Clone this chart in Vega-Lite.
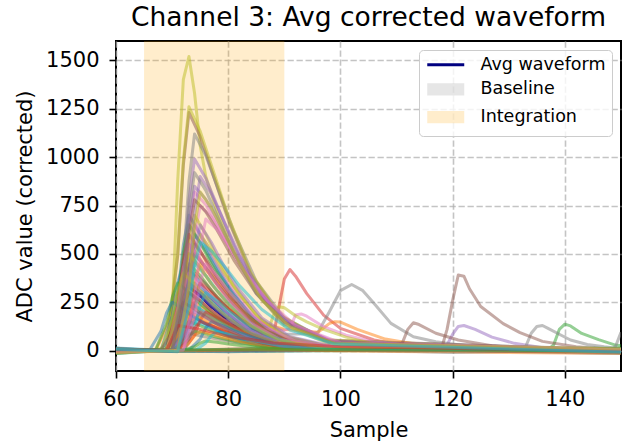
{
  "$schema": "https://vega.github.io/schema/vega-lite/v6.json",
  "width": 505,
  "height": 330,
  "autosize": {"type": "none"},
  "padding": {"left": 116, "top": 41, "right": 1, "bottom": 75},
  "background": "white",
  "title": {
    "text": "Channel 3: Avg corrected waveform",
    "font": "DejaVu Sans",
    "fontSize": 26.5,
    "fontWeight": "normal",
    "color": "black",
    "anchor": "middle",
    "baseline": "alphabetic",
    "offset": -11
  },
  "config": {
    "font": "DejaVu Sans",
    "view": {"stroke": "black", "strokeWidth": 2},
    "axis": {
      "domain": false,
      "grid": true,
      "gridColor": "#b0b0b0",
      "gridOpacity": 0.75,
      "gridDash": [6.3, 2.7],
      "gridWidth": 1.6,
      "ticks": true,
      "tickColor": "black",
      "tickSize": 7,
      "tickWidth": 1.6,
      "labelFont": "DejaVu Sans",
      "labelFontSize": 21,
      "labelColor": "black",
      "labelPadding": 10,
      "format": "d",
      "titleFont": "DejaVu Sans",
      "titleFontSize": 21,
      "titleFontWeight": "normal",
      "titleColor": "black"
    },
    "axisX": {"titleX": 252.5, "titleY": 65.7, "titleBaseline": "alphabetic", "labelFlush": false},
    "axisY": {"titleX": -84.3, "titleY": 165, "titleAngle": -90, "titleBaseline": "alphabetic", "titleAlign": "center"}
  },
  "datasets": {
    "regions": [
      {"region": "Baseline", "x0": 0, "x1": 50},
      {"region": "Integration", "x0": 65, "x1": 90}
    ],
    "avg": [
      {"x": 60, "y": 0}, {"x": 69, "y": 0}, {"x": 71, "y": 132}, {"x": 72, "y": 257}, {"x": 73, "y": 330}, {"x": 75, "y": 284}, {"x": 77, "y": 228}, {"x": 80, "y": 158}, {"x": 84, "y": 86}, {"x": 89, "y": 36}, {"x": 97, "y": 10}, {"x": 150, "y": 0}
    ],
    "waves": [
      {"w":0,"x":60,"y":12},{"w":0,"x":69,"y":-3},{"w":0,"x":71,"y":280},{"w":0,"x":72,"y":546},{"w":0,"x":73,"y":700},{"w":0,"x":75,"y":602},{"w":0,"x":77,"y":483},{"w":0,"x":80,"y":336},{"w":0,"x":84,"y":182},{"w":0,"x":89,"y":77},{"w":0,"x":97,"y":21},{"w":0,"x":150,"y":-6},
      {"w":1,"x":60,"y":-5},{"w":1,"x":69,"y":2},{"w":1,"x":71,"y":220},{"w":1,"x":72,"y":429},{"w":1,"x":73,"y":550},{"w":1,"x":75,"y":473},{"w":1,"x":77,"y":380},{"w":1,"x":80,"y":264},{"w":1,"x":84,"y":143},{"w":1,"x":89,"y":61},{"w":1,"x":97,"y":17},{"w":1,"x":150,"y":5},
      {"w":2,"x":60,"y":7},{"w":2,"x":69,"y":0},{"w":2,"x":71,"y":180},{"w":2,"x":72,"y":351},{"w":2,"x":73,"y":450},{"w":2,"x":75,"y":387},{"w":2,"x":77,"y":311},{"w":2,"x":80,"y":216},{"w":2,"x":84,"y":117},{"w":2,"x":89,"y":50},{"w":2,"x":97,"y":14},{"w":2,"x":150,"y":-3},
      {"w":3,"x":60,"y":-4},{"w":3,"x":70,"y":2},{"w":3,"x":72,"y":90},{"w":3,"x":74,"y":170},{"w":3,"x":77,"y":130},{"w":3,"x":81,"y":80},{"w":3,"x":87,"y":45},{"w":3,"x":88,"y":70},{"w":3,"x":89,"y":220},{"w":3,"x":90,"y":370},{"w":3,"x":91,"y":419},{"w":3,"x":92,"y":385},{"w":3,"x":94,"y":295},{"w":3,"x":97,"y":184},{"w":3,"x":100,"y":115},{"w":3,"x":106,"y":55},{"w":3,"x":111,"y":29},{"w":3,"x":120,"y":10},{"w":3,"x":150,"y":-4},
      {"w":4,"x":60,"y":3},{"w":4,"x":118,"y":5},{"w":4,"x":119,"y":30},{"w":4,"x":120,"y":85},{"w":4,"x":121,"y":125},{"w":4,"x":122,"y":130},{"w":4,"x":124,"y":110},{"w":4,"x":127,"y":70},{"w":4,"x":131,"y":38},{"w":4,"x":136,"y":15},{"w":4,"x":150,"y":0},
      {"w":5,"x":60,"y":-2},{"w":5,"x":70,"y":5},{"w":5,"x":72,"y":160},{"w":5,"x":73,"y":312},{"w":5,"x":74,"y":400},{"w":5,"x":76,"y":344},{"w":5,"x":78,"y":276},{"w":5,"x":81,"y":192},{"w":5,"x":85,"y":104},{"w":5,"x":90,"y":44},{"w":5,"x":98,"y":12},{"w":5,"x":150,"y":3},
      {"w":6,"x":60,"y":6},{"w":6,"x":71,"y":-1},{"w":6,"x":73,"y":300},{"w":6,"x":74,"y":585},{"w":6,"x":75,"y":750},{"w":6,"x":77,"y":690},{"w":6,"x":79,"y":600},{"w":6,"x":82,"y":450},{"w":6,"x":86,"y":285},{"w":6,"x":91,"y":143},{"w":6,"x":99,"y":45},{"w":6,"x":150,"y":-5},
      {"w":7,"x":60,"y":1},{"w":7,"x":69,"y":-2},{"w":7,"x":71,"y":110},{"w":7,"x":73,"y":250},{"w":7,"x":75,"y":215},{"w":7,"x":78,"y":165},{"w":7,"x":83,"y":110},{"w":7,"x":90,"y":85},{"w":7,"x":95,"y":88},{"w":7,"x":96,"y":95},{"w":7,"x":98,"y":200},{"w":7,"x":100,"y":310},{"w":7,"x":102,"y":342},{"w":7,"x":104,"y":310},{"w":7,"x":106,"y":244},{"w":7,"x":109,"y":141},{"w":7,"x":113,"y":72},{"w":7,"x":117,"y":46},{"w":7,"x":125,"y":15},{"w":7,"x":150,"y":2},
      {"w":8,"x":60,"y":-6},{"w":8,"x":67,"y":2},{"w":8,"x":69,"y":20},{"w":8,"x":70,"y":180},{"w":8,"x":71,"y":880},{"w":8,"x":72,"y":1400},{"w":8,"x":73,"y":1520},{"w":8,"x":74,"y":1330},{"w":8,"x":75,"y":1060},{"w":8,"x":76,"y":900},{"w":8,"x":78,"y":720},{"w":8,"x":81,"y":520},{"w":8,"x":85,"y":300},{"w":8,"x":90,"y":130},{"w":8,"x":98,"y":35},{"w":8,"x":150,"y":4},
      {"w":9,"x":60,"y":14},{"w":9,"x":69,"y":1},{"w":9,"x":71,"y":140},{"w":9,"x":72,"y":273},{"w":9,"x":73,"y":350},{"w":9,"x":75,"y":301},{"w":9,"x":77,"y":242},{"w":9,"x":80,"y":168},{"w":9,"x":84,"y":91},{"w":9,"x":89,"y":39},{"w":9,"x":97,"y":11},{"w":9,"x":150,"y":-7},
      {"w":10,"x":60,"y":-13},{"w":10,"x":70,"y":3},{"w":10,"x":72,"y":240},{"w":10,"x":73,"y":468},{"w":10,"x":74,"y":600},{"w":10,"x":76,"y":516},{"w":10,"x":78,"y":414},{"w":10,"x":81,"y":288},{"w":10,"x":85,"y":156},{"w":10,"x":90,"y":66},{"w":10,"x":98,"y":18},{"w":10,"x":150,"y":6},
      {"w":11,"x":60,"y":2},{"w":11,"x":67,"y":-4},{"w":11,"x":69,"y":120},{"w":11,"x":70,"y":234},{"w":11,"x":71,"y":300},{"w":11,"x":73,"y":258},{"w":11,"x":75,"y":207},{"w":11,"x":78,"y":144},{"w":11,"x":82,"y":78},{"w":11,"x":87,"y":33},{"w":11,"x":95,"y":9},{"w":11,"x":150,"y":-1},
      {"w":12,"x":60,"y":-3},{"w":12,"x":136,"y":2},{"w":12,"x":137,"y":5},{"w":12,"x":138,"y":30},{"w":12,"x":139,"y":110},{"w":12,"x":140,"y":137},{"w":12,"x":141,"y":128},{"w":12,"x":143,"y":89},{"w":12,"x":146,"y":57},{"w":12,"x":149,"y":29},{"w":12,"x":150,"y":25},
      {"w":13,"x":60,"y":5},{"w":13,"x":70,"y":-2},{"w":13,"x":72,"y":200},{"w":13,"x":73,"y":390},{"w":13,"x":74,"y":500},{"w":13,"x":76,"y":430},{"w":13,"x":78,"y":345},{"w":13,"x":81,"y":240},{"w":13,"x":85,"y":130},{"w":13,"x":90,"y":55},{"w":13,"x":98,"y":15},{"w":13,"x":150,"y":8},
      {"w":14,"x":60,"y":-1},{"w":14,"x":70,"y":4},{"w":14,"x":72,"y":400},{"w":14,"x":73,"y":780},{"w":14,"x":74,"y":990},{"w":14,"x":76,"y":891},{"w":14,"x":78,"y":752},{"w":14,"x":81,"y":545},{"w":14,"x":85,"y":317},{"w":14,"x":90,"y":149},{"w":14,"x":98,"y":45},{"w":14,"x":150,"y":-3},
      {"w":15,"x":60,"y":3},{"w":15,"x":69,"y":-1},{"w":15,"x":71,"y":492},{"w":15,"x":72,"y":959},{"w":15,"x":73,"y":1230},{"w":15,"x":75,"y":1107},{"w":15,"x":77,"y":935},{"w":15,"x":80,"y":677},{"w":15,"x":84,"y":394},{"w":15,"x":89,"y":185},{"w":15,"x":97,"y":55},{"w":15,"x":150,"y":2},
      {"w":16,"x":60,"y":-7},{"w":16,"x":70,"y":2},{"w":16,"x":72,"y":328},{"w":16,"x":73,"y":640},{"w":16,"x":74,"y":820},{"w":16,"x":76,"y":754},{"w":16,"x":78,"y":656},{"w":16,"x":81,"y":492},{"w":16,"x":85,"y":312},{"w":16,"x":90,"y":156},{"w":16,"x":98,"y":49},{"w":16,"x":150,"y":-4},
      {"w":17,"x":60,"y":4},{"w":17,"x":70,"y":-3},{"w":17,"x":72,"y":448},{"w":17,"x":73,"y":874},{"w":17,"x":74,"y":1120},{"w":17,"x":76,"y":1008},{"w":17,"x":78,"y":851},{"w":17,"x":81,"y":616},{"w":17,"x":85,"y":358},{"w":17,"x":90,"y":168},{"w":17,"x":98,"y":50},{"w":17,"x":150,"y":6},
      {"w":18,"x":60,"y":-2},{"w":18,"x":69,"y":3},{"w":18,"x":71,"y":504},{"w":18,"x":72,"y":983},{"w":18,"x":73,"y":1260},{"w":18,"x":75,"y":1134},{"w":18,"x":77,"y":958},{"w":18,"x":80,"y":693},{"w":18,"x":84,"y":403},{"w":18,"x":89,"y":189},{"w":18,"x":97,"y":57},{"w":18,"x":150,"y":-5},
      {"w":19,"x":60,"y":6},{"w":19,"x":69,"y":-2},{"w":19,"x":71,"y":100},{"w":19,"x":72,"y":195},{"w":19,"x":73,"y":250},{"w":19,"x":75,"y":215},{"w":19,"x":77,"y":173},{"w":19,"x":80,"y":120},{"w":19,"x":84,"y":65},{"w":19,"x":89,"y":28},{"w":19,"x":97,"y":8},{"w":19,"x":150,"y":3},
      {"w":20,"x":60,"y":-4},{"w":20,"x":68,"y":1},{"w":20,"x":70,"y":180},{"w":20,"x":71,"y":351},{"w":20,"x":72,"y":450},{"w":20,"x":74,"y":387},{"w":20,"x":76,"y":311},{"w":20,"x":79,"y":216},{"w":20,"x":83,"y":117},{"w":20,"x":88,"y":50},{"w":20,"x":96,"y":14},{"w":20,"x":150,"y":-8},
      {"w":21,"x":60,"y":1},{"w":21,"x":70,"y":-2},{"w":21,"x":72,"y":130},{"w":21,"x":74,"y":330},{"w":21,"x":76,"y":290},{"w":21,"x":79,"y":230},{"w":21,"x":84,"y":160},{"w":21,"x":90,"y":110},{"w":21,"x":96,"y":95},{"w":21,"x":98,"y":140},{"w":21,"x":99,"y":150},{"w":21,"x":100,"y":148},{"w":21,"x":103,"y":110},{"w":21,"x":108,"y":60},{"w":21,"x":115,"y":25},{"w":21,"x":150,"y":3},
      {"w":22,"x":60,"y":-14},{"w":22,"x":69,"y":2},{"w":22,"x":71,"y":260},{"w":22,"x":72,"y":507},{"w":22,"x":73,"y":650},{"w":22,"x":75,"y":559},{"w":22,"x":77,"y":449},{"w":22,"x":80,"y":312},{"w":22,"x":84,"y":169},{"w":22,"x":89,"y":72},{"w":22,"x":97,"y":20},{"w":22,"x":150,"y":4},
      {"w":23,"x":60,"y":3},{"w":23,"x":69,"y":-1},{"w":23,"x":71,"y":120},{"w":23,"x":72,"y":234},{"w":23,"x":73,"y":300},{"w":23,"x":75,"y":258},{"w":23,"x":77,"y":207},{"w":23,"x":80,"y":144},{"w":23,"x":84,"y":78},{"w":23,"x":89,"y":33},{"w":23,"x":97,"y":9},{"w":23,"x":150,"y":-2},
      {"w":24,"x":60,"y":2},{"w":24,"x":70,"y":-3},{"w":24,"x":72,"y":340},{"w":24,"x":73,"y":663},{"w":24,"x":74,"y":850},{"w":24,"x":76,"y":782},{"w":24,"x":78,"y":680},{"w":24,"x":81,"y":510},{"w":24,"x":85,"y":323},{"w":24,"x":90,"y":162},{"w":24,"x":98,"y":51},{"w":24,"x":150,"y":1},
      {"w":25,"x":60,"y":-1},{"w":25,"x":75,"y":3},{"w":25,"x":90,"y":18},{"w":25,"x":100,"y":22},{"w":25,"x":108,"y":22},{"w":25,"x":111,"y":38},{"w":25,"x":112,"y":110},{"w":25,"x":113,"y":144},{"w":25,"x":114,"y":135},{"w":25,"x":117,"y":90},{"w":25,"x":121,"y":55},{"w":25,"x":127,"y":25},{"w":25,"x":135,"y":8},{"w":25,"x":150,"y":-2},
      {"w":26,"x":60,"y":5},{"w":26,"x":71,"y":0},{"w":26,"x":73,"y":110},{"w":26,"x":75,"y":200},{"w":26,"x":79,"y":160},{"w":26,"x":85,"y":115},{"w":26,"x":90,"y":105},{"w":26,"x":91,"y":115},{"w":26,"x":92,"y":185},{"w":26,"x":93,"y":190},{"w":26,"x":94,"y":178},{"w":26,"x":97,"y":124},{"w":26,"x":101,"y":80},{"w":26,"x":106,"y":45},{"w":26,"x":115,"y":15},{"w":26,"x":150,"y":-3},
      {"w":27,"x":60,"y":-2},{"w":27,"x":131,"y":4},{"w":27,"x":133,"y":20},{"w":27,"x":134,"y":90},{"w":27,"x":135,"y":125},{"w":27,"x":136,"y":130},{"w":27,"x":137,"y":115},{"w":27,"x":139,"y":85},{"w":27,"x":141,"y":55},{"w":27,"x":144,"y":32},{"w":27,"x":147,"y":20},{"w":27,"x":150,"y":10},
      {"w":28,"x":60,"y":0},{"w":28,"x":71,"y":3},{"w":28,"x":73,"y":150},{"w":28,"x":76,"y":190},{"w":28,"x":80,"y":120},{"w":28,"x":85,"y":70},{"w":28,"x":87,"y":90},{"w":28,"x":88,"y":180},{"w":28,"x":89,"y":227},{"w":28,"x":90,"y":222},{"w":28,"x":92,"y":180},{"w":28,"x":94,"y":149},{"w":28,"x":97,"y":110},{"w":28,"x":101,"y":70},{"w":28,"x":106,"y":35},{"w":28,"x":115,"y":10},{"w":28,"x":150,"y":2},
      {"w":29,"x":60,"y":-6},{"w":29,"x":68,"y":3},{"w":29,"x":70,"y":80},{"w":29,"x":71,"y":156},{"w":29,"x":72,"y":200},{"w":29,"x":74,"y":172},{"w":29,"x":76,"y":138},{"w":29,"x":79,"y":96},{"w":29,"x":83,"y":52},{"w":29,"x":88,"y":22},{"w":29,"x":96,"y":6},{"w":29,"x":150,"y":-1},
      {"w":30,"x":60,"y":2},{"w":30,"x":70,"y":-1},{"w":30,"x":72,"y":140},{"w":30,"x":73,"y":273},{"w":30,"x":74,"y":350},{"w":30,"x":76,"y":301},{"w":30,"x":78,"y":242},{"w":30,"x":81,"y":168},{"w":30,"x":85,"y":91},{"w":30,"x":90,"y":39},{"w":30,"x":98,"y":11},{"w":30,"x":150,"y":-14},
      {"w":31,"x":60,"y":-3},{"w":31,"x":70,"y":4},{"w":31,"x":72,"y":100},{"w":31,"x":73,"y":195},{"w":31,"x":74,"y":250},{"w":31,"x":76,"y":215},{"w":31,"x":78,"y":173},{"w":31,"x":81,"y":120},{"w":31,"x":85,"y":65},{"w":31,"x":90,"y":28},{"w":31,"x":98,"y":8},{"w":31,"x":150,"y":5},
      {"w":32,"x":60,"y":8},{"w":32,"x":69,"y":2},{"w":32,"x":71,"y":60},{"w":32,"x":72,"y":117},{"w":32,"x":73,"y":150},{"w":32,"x":75,"y":129},{"w":32,"x":77,"y":104},{"w":32,"x":80,"y":72},{"w":32,"x":84,"y":39},{"w":32,"x":89,"y":17},{"w":32,"x":97,"y":5},{"w":32,"x":150,"y":6},
      {"w":33,"x":60,"y":-5},{"w":33,"x":69,"y":0},{"w":33,"x":71,"y":240},{"w":33,"x":72,"y":468},{"w":33,"x":73,"y":600},{"w":33,"x":75,"y":516},{"w":33,"x":77,"y":414},{"w":33,"x":80,"y":288},{"w":33,"x":84,"y":156},{"w":33,"x":89,"y":66},{"w":33,"x":97,"y":18},{"w":33,"x":150,"y":-3},
      {"w":34,"x":60,"y":4},{"w":34,"x":69,"y":-3},{"w":34,"x":71,"y":200},{"w":34,"x":72,"y":390},{"w":34,"x":73,"y":500},{"w":34,"x":75,"y":430},{"w":34,"x":77,"y":345},{"w":34,"x":80,"y":240},{"w":34,"x":84,"y":130},{"w":34,"x":89,"y":55},{"w":34,"x":97,"y":15},{"w":34,"x":150,"y":7},
      {"w":35,"x":60,"y":-3},{"w":35,"x":110,"y":6},{"w":35,"x":117,"y":8},{"w":35,"x":118,"y":10},{"w":35,"x":119,"y":110},{"w":35,"x":120,"y":260},{"w":35,"x":121,"y":391},{"w":35,"x":122,"y":385},{"w":35,"x":123,"y":320},{"w":35,"x":125,"y":228},{"w":35,"x":129,"y":140},{"w":35,"x":132,"y":93},{"w":35,"x":136,"y":48},{"w":35,"x":142,"y":20},{"w":35,"x":150,"y":4},
      {"w":36,"x":60,"y":1},{"w":36,"x":70,"y":-2},{"w":36,"x":72,"y":260},{"w":36,"x":73,"y":507},{"w":36,"x":74,"y":650},{"w":36,"x":76,"y":559},{"w":36,"x":78,"y":449},{"w":36,"x":81,"y":312},{"w":36,"x":85,"y":169},{"w":36,"x":90,"y":72},{"w":36,"x":98,"y":20},{"w":36,"x":150,"y":-6},
      {"w":37,"x":60,"y":3},{"w":37,"x":70,"y":0},{"w":37,"x":73,"y":90},{"w":37,"x":76,"y":70},{"w":37,"x":82,"y":40},{"w":37,"x":95,"y":15},{"w":37,"x":120,"y":5},{"w":37,"x":148,"y":2},{"w":37,"x":149,"y":20},{"w":37,"x":150,"y":95},
      {"w":38,"x":60,"y":-4},{"w":38,"x":70,"y":3},{"w":38,"x":72,"y":280},{"w":38,"x":73,"y":546},{"w":38,"x":74,"y":700},{"w":38,"x":76,"y":602},{"w":38,"x":78,"y":483},{"w":38,"x":81,"y":336},{"w":38,"x":85,"y":182},{"w":38,"x":90,"y":77},{"w":38,"x":98,"y":21},{"w":38,"x":150,"y":2},
      {"w":39,"x":60,"y":5},{"w":39,"x":70,"y":-2},{"w":39,"x":72,"y":180},{"w":39,"x":73,"y":351},{"w":39,"x":74,"y":450},{"w":39,"x":76,"y":387},{"w":39,"x":78,"y":311},{"w":39,"x":81,"y":216},{"w":39,"x":85,"y":117},{"w":39,"x":90,"y":50},{"w":39,"x":98,"y":14},{"w":39,"x":150,"y":-4},
      {"w":40,"x":60,"y":-1},{"w":40,"x":71,"y":2},{"w":40,"x":73,"y":120},{"w":40,"x":74,"y":234},{"w":40,"x":75,"y":300},{"w":40,"x":77,"y":258},{"w":40,"x":79,"y":207},{"w":40,"x":82,"y":144},{"w":40,"x":86,"y":78},{"w":40,"x":91,"y":33},{"w":40,"x":99,"y":9},{"w":40,"x":150,"y":3},
      {"w":41,"x":60,"y":3},{"w":41,"x":71,"y":-4},{"w":41,"x":73,"y":180},{"w":41,"x":74,"y":351},{"w":41,"x":75,"y":450},{"w":41,"x":77,"y":387},{"w":41,"x":79,"y":311},{"w":41,"x":82,"y":216},{"w":41,"x":86,"y":117},{"w":41,"x":91,"y":50},{"w":41,"x":99,"y":14},{"w":41,"x":150,"y":-2},
      {"w":42,"x":60,"y":-7},{"w":42,"x":67,"y":0},{"w":42,"x":69,"y":140},{"w":42,"x":70,"y":273},{"w":42,"x":71,"y":350},{"w":42,"x":73,"y":301},{"w":42,"x":75,"y":242},{"w":42,"x":78,"y":168},{"w":42,"x":82,"y":91},{"w":42,"x":87,"y":39},{"w":42,"x":95,"y":11},{"w":42,"x":150,"y":13},
      {"w":43,"x":60,"y":2},{"w":43,"x":72,"y":1},{"w":43,"x":74,"y":80},{"w":43,"x":75,"y":156},{"w":43,"x":76,"y":200},{"w":43,"x":78,"y":172},{"w":43,"x":80,"y":138},{"w":43,"x":83,"y":96},{"w":43,"x":87,"y":52},{"w":43,"x":92,"y":22},{"w":43,"x":100,"y":6},{"w":43,"x":150,"y":-5},
      {"w":44,"x":60,"y":-2},{"w":44,"x":70,"y":2},{"w":44,"x":72,"y":120},{"w":44,"x":73,"y":234},{"w":44,"x":74,"y":300},{"w":44,"x":76,"y":258},{"w":44,"x":78,"y":207},{"w":44,"x":81,"y":144},{"w":44,"x":85,"y":78},{"w":44,"x":90,"y":33},{"w":44,"x":98,"y":9},{"w":44,"x":150,"y":4},
      {"w":45,"x":60,"y":6},{"w":45,"x":70,"y":-1},{"w":45,"x":72,"y":220},{"w":45,"x":73,"y":429},{"w":45,"x":74,"y":550},{"w":45,"x":76,"y":473},{"w":45,"x":78,"y":380},{"w":45,"x":81,"y":264},{"w":45,"x":85,"y":143},{"w":45,"x":90,"y":61},{"w":45,"x":98,"y":17},{"w":45,"x":150,"y":-3},
      {"w":46,"x":60,"y":-3},{"w":46,"x":69,"y":3},{"w":46,"x":71,"y":160},{"w":46,"x":72,"y":312},{"w":46,"x":73,"y":400},{"w":46,"x":75,"y":344},{"w":46,"x":77,"y":276},{"w":46,"x":80,"y":192},{"w":46,"x":84,"y":104},{"w":46,"x":89,"y":44},{"w":46,"x":97,"y":12},{"w":46,"x":150,"y":6},
      {"w":47,"x":60,"y":1},{"w":47,"x":70,"y":-4},{"w":47,"x":72,"y":200},{"w":47,"x":73,"y":390},{"w":47,"x":74,"y":500},{"w":47,"x":76,"y":430},{"w":47,"x":78,"y":345},{"w":47,"x":81,"y":240},{"w":47,"x":85,"y":130},{"w":47,"x":90,"y":55},{"w":47,"x":98,"y":15},{"w":47,"x":150,"y":-1},
      {"w":48,"x":60,"y":-5},{"w":48,"x":71,"y":2},{"w":48,"x":73,"y":240},{"w":48,"x":74,"y":468},{"w":48,"x":75,"y":600},{"w":48,"x":77,"y":516},{"w":48,"x":79,"y":414},{"w":48,"x":82,"y":288},{"w":48,"x":86,"y":156},{"w":48,"x":91,"y":66},{"w":48,"x":99,"y":18},{"w":48,"x":150,"y":5},
      {"w":49,"x":60,"y":4},{"w":49,"x":70,"y":1},{"w":49,"x":72,"y":60},{"w":49,"x":73,"y":117},{"w":49,"x":74,"y":150},{"w":49,"x":76,"y":129},{"w":49,"x":78,"y":104},{"w":49,"x":81,"y":72},{"w":49,"x":85,"y":39},{"w":49,"x":90,"y":17},{"w":49,"x":98,"y":5},{"w":49,"x":150,"y":-6},
      {"w":50,"x":60,"y":-2},{"w":50,"x":66,"y":3},{"w":50,"x":68,"y":100},{"w":50,"x":69,"y":195},{"w":50,"x":70,"y":250},{"w":50,"x":72,"y":215},{"w":50,"x":74,"y":173},{"w":50,"x":77,"y":120},{"w":50,"x":81,"y":65},{"w":50,"x":86,"y":28},{"w":50,"x":94,"y":8},{"w":50,"x":150,"y":2},
      {"w":51,"x":60,"y":7},{"w":51,"x":69,"y":-2},{"w":51,"x":71,"y":80},{"w":51,"x":72,"y":156},{"w":51,"x":73,"y":200},{"w":51,"x":75,"y":172},{"w":51,"x":77,"y":138},{"w":51,"x":80,"y":96},{"w":51,"x":84,"y":52},{"w":51,"x":89,"y":22},{"w":51,"x":97,"y":6},{"w":51,"x":150,"y":-4},
      {"w":52,"x":60,"y":-3},{"w":52,"x":70,"y":2},{"w":52,"x":72,"y":40},{"w":52,"x":73,"y":78},{"w":52,"x":74,"y":100},{"w":52,"x":76,"y":86},{"w":52,"x":78,"y":69},{"w":52,"x":81,"y":48},{"w":52,"x":85,"y":26},{"w":52,"x":90,"y":11},{"w":52,"x":98,"y":3},{"w":52,"x":150,"y":8},
      {"w":53,"x":60,"y":3},{"w":53,"x":71,"y":-3},{"w":53,"x":73,"y":140},{"w":53,"x":74,"y":273},{"w":53,"x":75,"y":350},{"w":53,"x":77,"y":301},{"w":53,"x":79,"y":242},{"w":53,"x":82,"y":168},{"w":53,"x":86,"y":91},{"w":53,"x":91,"y":39},{"w":53,"x":99,"y":11},{"w":53,"x":150,"y":-2},
      {"w":54,"x":60,"y":-6},{"w":54,"x":71,"y":1},{"w":54,"x":73,"y":260},{"w":54,"x":74,"y":507},{"w":54,"x":75,"y":650},{"w":54,"x":77,"y":559},{"w":54,"x":79,"y":449},{"w":54,"x":82,"y":312},{"w":54,"x":86,"y":169},{"w":54,"x":91,"y":72},{"w":54,"x":99,"y":20},{"w":54,"x":150,"y":3},
      {"w":55,"x":60,"y":2},{"w":55,"x":69,"y":4},{"w":55,"x":71,"y":120},{"w":55,"x":72,"y":234},{"w":55,"x":73,"y":300},{"w":55,"x":75,"y":258},{"w":55,"x":77,"y":207},{"w":55,"x":80,"y":144},{"w":55,"x":84,"y":78},{"w":55,"x":89,"y":33},{"w":55,"x":97,"y":9},{"w":55,"x":150,"y":-7},
      {"w":56,"x":60,"y":-1},{"w":56,"x":69,"y":-2},{"w":56,"x":71,"y":220},{"w":56,"x":72,"y":429},{"w":56,"x":73,"y":550},{"w":56,"x":75,"y":473},{"w":56,"x":77,"y":380},{"w":56,"x":80,"y":264},{"w":56,"x":84,"y":143},{"w":56,"x":89,"y":61},{"w":56,"x":97,"y":17},{"w":56,"x":150,"y":4},
      {"w":57,"x":60,"y":5},{"w":57,"x":71,"y":0},{"w":57,"x":73,"y":80},{"w":57,"x":74,"y":156},{"w":57,"x":75,"y":200},{"w":57,"x":77,"y":172},{"w":57,"x":79,"y":138},{"w":57,"x":82,"y":96},{"w":57,"x":86,"y":52},{"w":57,"x":91,"y":22},{"w":57,"x":99,"y":6},{"w":57,"x":150,"y":-3},
      {"w":58,"x":60,"y":-4},{"w":58,"x":68,"y":2},{"w":58,"x":70,"y":160},{"w":58,"x":71,"y":312},{"w":58,"x":72,"y":400},{"w":58,"x":74,"y":344},{"w":58,"x":76,"y":276},{"w":58,"x":79,"y":192},{"w":58,"x":83,"y":104},{"w":58,"x":88,"y":44},{"w":58,"x":96,"y":12},{"w":58,"x":150,"y":1},
      {"w":59,"x":60,"y":3},{"w":59,"x":72,"y":-1},{"w":59,"x":74,"y":120},{"w":59,"x":75,"y":234},{"w":59,"x":76,"y":300},{"w":59,"x":78,"y":258},{"w":59,"x":80,"y":207},{"w":59,"x":83,"y":144},{"w":59,"x":87,"y":78},{"w":59,"x":92,"y":33},{"w":59,"x":100,"y":9},{"w":59,"x":150,"y":-5},
      {"w":60,"x":60,"y":-2},{"w":60,"x":73,"y":3},{"w":60,"x":75,"y":60},{"w":60,"x":76,"y":117},{"w":60,"x":77,"y":150},{"w":60,"x":79,"y":129},{"w":60,"x":81,"y":104},{"w":60,"x":84,"y":72},{"w":60,"x":88,"y":39},{"w":60,"x":93,"y":17},{"w":60,"x":101,"y":5},{"w":60,"x":150,"y":6},
      {"w":61,"x":60,"y":6},{"w":61,"x":71,"y":-2},{"w":61,"x":73,"y":40},{"w":61,"x":74,"y":78},{"w":61,"x":75,"y":100},{"w":61,"x":77,"y":86},{"w":61,"x":79,"y":69},{"w":61,"x":82,"y":48},{"w":61,"x":86,"y":26},{"w":61,"x":91,"y":11},{"w":61,"x":99,"y":3},{"w":61,"x":150,"y":-1},
      {"w":62,"x":60,"y":-5},{"w":62,"x":72,"y":2},{"w":62,"x":74,"y":20},{"w":62,"x":75,"y":39},{"w":62,"x":76,"y":50},{"w":62,"x":78,"y":43},{"w":62,"x":80,"y":35},{"w":62,"x":83,"y":24},{"w":62,"x":87,"y":13},{"w":62,"x":92,"y":6},{"w":62,"x":100,"y":2},{"w":62,"x":150,"y":3},
      {"w":63,"x":60,"y":1},{"w":63,"x":71,"y":3},{"w":63,"x":73,"y":60},{"w":63,"x":74,"y":117},{"w":63,"x":75,"y":150},{"w":63,"x":77,"y":129},{"w":63,"x":79,"y":104},{"w":63,"x":82,"y":72},{"w":63,"x":86,"y":39},{"w":63,"x":91,"y":17},{"w":63,"x":99,"y":5},{"w":63,"x":150,"y":-8},
      {"w":64,"x":60,"y":-3},{"w":64,"x":70,"y":-1},{"w":64,"x":72,"y":80},{"w":64,"x":73,"y":156},{"w":64,"x":74,"y":200},{"w":64,"x":76,"y":172},{"w":64,"x":78,"y":138},{"w":64,"x":81,"y":96},{"w":64,"x":85,"y":52},{"w":64,"x":90,"y":22},{"w":64,"x":98,"y":6},{"w":64,"x":150,"y":5},
      {"w":65,"x":60,"y":4},{"w":65,"x":68,"y":1},{"w":65,"x":70,"y":100},{"w":65,"x":71,"y":195},{"w":65,"x":72,"y":250},{"w":65,"x":74,"y":215},{"w":65,"x":76,"y":173},{"w":65,"x":79,"y":120},{"w":65,"x":83,"y":65},{"w":65,"x":88,"y":28},{"w":65,"x":96,"y":8},{"w":65,"x":150,"y":-2},
      {"w":66,"x":60,"y":-2},{"w":66,"x":72,"y":3},{"w":66,"x":74,"y":180},{"w":66,"x":75,"y":351},{"w":66,"x":76,"y":450},{"w":66,"x":78,"y":387},{"w":66,"x":80,"y":311},{"w":66,"x":83,"y":216},{"w":66,"x":87,"y":117},{"w":66,"x":92,"y":50},{"w":66,"x":100,"y":14},{"w":66,"x":150,"y":2},
      {"w":67,"x":60,"y":3},{"w":67,"x":69,"y":-3},{"w":67,"x":71,"y":140},{"w":67,"x":72,"y":273},{"w":67,"x":73,"y":350},{"w":67,"x":75,"y":301},{"w":67,"x":77,"y":242},{"w":67,"x":80,"y":168},{"w":67,"x":84,"y":91},{"w":67,"x":89,"y":39},{"w":67,"x":97,"y":11},{"w":67,"x":150,"y":-4},
      {"w":68,"x":60,"y":-4},{"w":68,"x":69,"y":1},{"w":68,"x":71,"y":200},{"w":68,"x":72,"y":390},{"w":68,"x":73,"y":500},{"w":68,"x":75,"y":430},{"w":68,"x":77,"y":345},{"w":68,"x":80,"y":240},{"w":68,"x":84,"y":130},{"w":68,"x":89,"y":55},{"w":68,"x":97,"y":15},{"w":68,"x":150,"y":6},
      {"w":69,"x":60,"y":5},{"w":69,"x":74,"y":-2},{"w":69,"x":76,"y":40},{"w":69,"x":77,"y":78},{"w":69,"x":78,"y":100},{"w":69,"x":80,"y":86},{"w":69,"x":82,"y":69},{"w":69,"x":85,"y":48},{"w":69,"x":89,"y":26},{"w":69,"x":94,"y":11},{"w":69,"x":102,"y":3},{"w":69,"x":150,"y":-3},
      {"w":70,"x":60,"y":3},{"w":70,"x":80,"y":-6},{"w":70,"x":100,"y":4},{"w":70,"x":120,"y":-8},{"w":70,"x":150,"y":2},
      {"w":71,"x":60,"y":-6},{"w":71,"x":85,"y":5},{"w":71,"x":110,"y":-4},{"w":71,"x":150,"y":-15},
      {"w":72,"x":60,"y":2},{"w":72,"x":90,"y":8},{"w":72,"x":120,"y":4},{"w":72,"x":150,"y":-2},
      {"w":73,"x":60,"y":0},{"w":73,"x":69,"y":2},{"w":73,"x":71,"y":130},{"w":73,"x":75,"y":110},{"w":73,"x":80,"y":75},{"w":73,"x":88,"y":40},{"w":73,"x":100,"y":20},{"w":73,"x":150,"y":0},
      {"w":74,"x":60,"y":-8},{"w":74,"x":71,"y":3},{"w":74,"x":73,"y":360},{"w":74,"x":74,"y":702},{"w":74,"x":75,"y":900},{"w":74,"x":77,"y":810},{"w":74,"x":79,"y":684},{"w":74,"x":82,"y":495},{"w":74,"x":86,"y":288},{"w":74,"x":91,"y":135},{"w":74,"x":99,"y":41},{"w":74,"x":150,"y":4},
      {"w":75,"x":60,"y":10},{"w":75,"x":70,"y":-2},{"w":75,"x":72,"y":312},{"w":75,"x":73,"y":608},{"w":75,"x":74,"y":780},{"w":75,"x":76,"y":718},{"w":75,"x":78,"y":624},{"w":75,"x":81,"y":468},{"w":75,"x":85,"y":296},{"w":75,"x":90,"y":148},{"w":75,"x":98,"y":47},{"w":75,"x":150,"y":-6},
      {"w":76,"x":60,"y":-9},{"w":76,"x":72,"y":4},{"w":76,"x":74,"y":272},{"w":76,"x":75,"y":530},{"w":76,"x":76,"y":680},{"w":76,"x":78,"y":626},{"w":76,"x":80,"y":544},{"w":76,"x":83,"y":408},{"w":76,"x":87,"y":258},{"w":76,"x":92,"y":129},{"w":76,"x":100,"y":41},{"w":76,"x":150,"y":7},
      {"w":77,"x":60,"y":12},{"w":77,"x":70,"y":-3},{"w":77,"x":72,"y":368},{"w":77,"x":73,"y":718},{"w":77,"x":74,"y":920},{"w":77,"x":76,"y":828},{"w":77,"x":78,"y":699},{"w":77,"x":81,"y":506},{"w":77,"x":85,"y":294},{"w":77,"x":90,"y":138},{"w":77,"x":98,"y":41},{"w":77,"x":150,"y":-4},
      {"w":78,"x":60,"y":-12},{"w":78,"x":71,"y":2},{"w":78,"x":73,"y":328},{"w":78,"x":74,"y":640},{"w":78,"x":75,"y":820},{"w":78,"x":77,"y":738},{"w":78,"x":79,"y":623},{"w":78,"x":82,"y":451},{"w":78,"x":86,"y":262},{"w":78,"x":91,"y":123},{"w":78,"x":99,"y":37},{"w":78,"x":150,"y":9},
      {"w":79,"x":60,"y":7},{"w":79,"x":71,"y":-5},{"w":79,"x":73,"y":224},{"w":79,"x":74,"y":437},{"w":79,"x":75,"y":560},{"w":79,"x":77,"y":515},{"w":79,"x":79,"y":448},{"w":79,"x":82,"y":336},{"w":79,"x":86,"y":213},{"w":79,"x":91,"y":106},{"w":79,"x":99,"y":34},{"w":79,"x":150,"y":-8}
    ]
  },
  "layer": [
    {
      "data": {"name": "regions"},
      "mark": {"type": "rect", "clip": true},
      "encoding": {
        "x": {"field": "x0", "type": "quantitative", "title": "Sample", "scale": {"domain": [60, 150], "nice": false, "zero": false}, "axis": {"values": [60, 80, 100, 120, 140]}},
        "x2": {"field": "x1"},
        "fill": {
          "field": "region",
          "type": "nominal",
          "scale": {"domain": ["Avg waveform", "Baseline", "Integration"], "range": ["#000080", "rgba(128,128,128,0.2)", "rgba(255,165,0,0.2)"]},
          "legend": {
            "title": null,
            "orient": "top-right",
            "offset": 9,
            "fillColor": "rgba(255,255,255,0.8)",
            "strokeColor": "#cccccc",
            "cornerRadius": 4,
            "padding": 6,
            "labelFont": "DejaVu Sans",
            "labelFontSize": 17.5,
            "labelColor": "black",
            "symbolSize": 152,
            "symbolOffset": 12,
            "labelOffset": 26,
            "rowPadding": 2.7,
            "encode": {
              "symbols": {
                "update": {
                  "shape": {"signal": "datum.value === 'Avg waveform' ? 'M-3,0H3' : 'M-3,-1H3V1H-3Z'"},
                  "stroke": {"signal": "datum.value === 'Avg waveform' ? '#000080' : 'transparent'"},
                  "strokeWidth": {"value": 3}
                }
              }
            }
          }
        }
      }
    },
    {
      "data": {"name": "avg"},
      "mark": {"type": "line", "color": "#000080", "strokeWidth": 3, "clip": true},
      "encoding": {
        "x": {"field": "x", "type": "quantitative", "title": "Sample"},
        "y": {"field": "y", "type": "quantitative", "title": "ADC value (corrected)", "scale": {"domain": [-105, 1600], "nice": false, "zero": false}, "axis": {"values": [0, 250, 500, 750, 1000, 1250, 1500]}}
      }
    },
    {
      "data": {"name": "waves"},
      "mark": {"type": "line", "strokeWidth": 3, "opacity": 0.5, "strokeJoin": "round", "clip": true},
      "encoding": {
        "x": {"field": "x", "type": "quantitative", "title": "Sample"},
        "y": {"field": "y", "type": "quantitative", "title": "ADC value (corrected)"},
        "color": {
          "field": "w",
          "type": "nominal",
          "scale": {"range": ["#1f77b4", "#ff7f0e", "#2ca02c", "#d62728", "#9467bd", "#8c564b", "#e377c2", "#7f7f7f", "#bcbd22", "#17becf"]},
          "legend": null
        }
      }
    }
  ]
}
